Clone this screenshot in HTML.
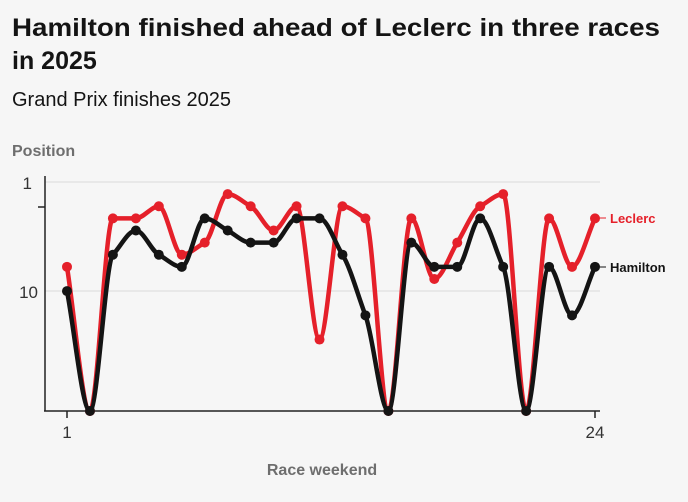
<!DOCTYPE html>
<html><head><meta charset="utf-8"><style>
body{margin:0;background:#f6f6f6;width:688px;height:497px;overflow:hidden;font-family:"Liberation Sans",sans-serif;}
</style></head><body>
<svg width="688" height="497" xmlns="http://www.w3.org/2000/svg">
<text x="12" y="36" font-size="25" font-weight="bold" fill="#141414" textLength="648" lengthAdjust="spacingAndGlyphs">Hamilton finished ahead of Leclerc in three races</text>
<text x="12" y="69" font-size="25" font-weight="bold" fill="#141414">in 2025</text>
<text x="12" y="106" font-size="20" fill="#141414">Grand Prix finishes 2025</text>
<text x="12" y="156" font-size="16" font-weight="bold" fill="#6e6e6e">Position</text>
<line x1="45" y1="182" x2="600" y2="182" stroke="#e4e4e4" stroke-width="1.5"/>
<line x1="45" y1="291" x2="600" y2="291" stroke="#e4e4e4" stroke-width="1.5"/>
<line x1="45" y1="176" x2="45" y2="411" stroke="#222" stroke-width="1.5"/>
<line x1="38" y1="207" x2="45" y2="207" stroke="#222" stroke-width="1.5"/>
<line x1="44" y1="411" x2="600" y2="411" stroke="#222" stroke-width="1.5"/>
<line x1="67" y1="411" x2="67" y2="418" stroke="#222" stroke-width="1.5"/>
<line x1="595" y1="411" x2="595" y2="418" stroke="#222" stroke-width="1.5"/>
<text x="32" y="189" font-size="17" fill="#333" text-anchor="end">1</text>
<text x="38" y="298" font-size="17" fill="#333" text-anchor="end">10</text>
<text x="67" y="438" font-size="17" fill="#333" text-anchor="middle">1</text>
<text x="595" y="438" font-size="17" fill="#333" text-anchor="middle">24</text>
<text x="322" y="475" font-size="16" font-weight="bold" fill="#6e6e6e" text-anchor="middle">Race weekend</text>
<g id="g"></g>
<text x="610" y="223" font-size="13" font-weight="bold" fill="#e5202a">Leclerc</text>
<text x="610" y="272" font-size="13" font-weight="bold" fill="#141414">Hamilton</text>
<line x1="598" y1="218" x2="606" y2="218" stroke="#e5202a" stroke-width="1"/>
<line x1="598" y1="267" x2="606" y2="267" stroke="#141414" stroke-width="1"/>
</svg>
<script>
var L=[8,20,4,4,3,7,6,2,3,5,3,14,3,4,20,4,9,6,3,2,20,4,8,4];
var H=[10,20,7,5,7,8,4,5,6,6,4,4,7,12,20,6,8,8,4,8,20,8,12,8];
function pts(a){return a.map(function(p,i){return [67+i*528/23,p>=20?411:182+(p-1)*12.12];});}
function path(P){var n=P.length,h=P[1][0]-P[0][0],s=[],m=[];
for(var i=0;i<n-1;i++)s.push((P[i+1][1]-P[i][1])/h);
for(i=0;i<n;i++){if(i==0)m.push(s[0]);else if(i==n-1)m.push(s[n-2]);else{var a=s[i-1],b=s[i];m.push(a*b<=0?0:(Math.sign(a))*Math.min(Math.abs(a),Math.abs(b),0.5*Math.abs(a+b)));}}
var d="M"+P[0][0]+","+P[0][1];
for(i=0;i<n-1;i++){d+=" C"+(P[i][0]+h/3)+","+(P[i][1]+m[i]*h/3)+" "+(P[i+1][0]-h/3)+","+(P[i+1][1]-m[i+1]*h/3)+" "+P[i+1][0]+","+P[i+1][1];}return d;}
var g=document.getElementById("g"),s="";
[[L,"#e5202a"],[H,"#141414"]].forEach(function(o){var P=pts(o[0]);s+='<path d="'+path(P)+'" fill="none" stroke="'+o[1]+'" stroke-width="4.5" stroke-linejoin="round"/>';P.forEach(function(p){s+='<circle cx="'+p[0]+'" cy="'+p[1]+'" r="5" fill="'+o[1]+'"/>';});});
g.innerHTML=s;
</script>
</body></html>
